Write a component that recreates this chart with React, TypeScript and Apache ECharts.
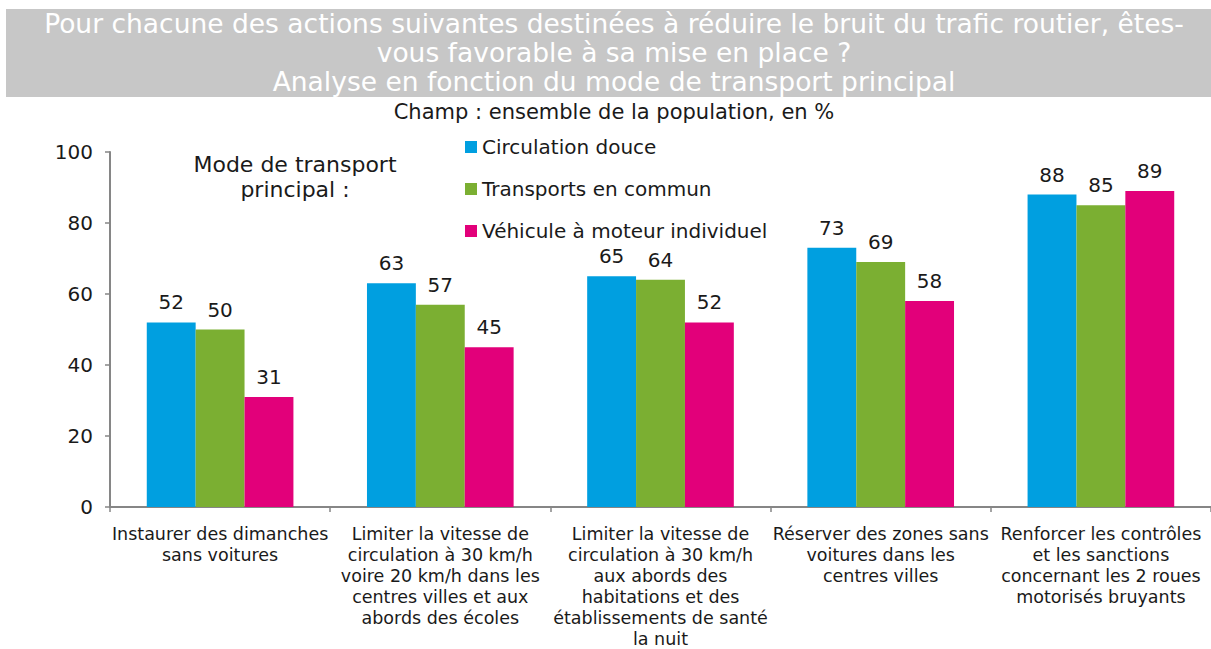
import React, { useEffect, useRef } from "react";
import * as echarts from "echarts";

const titleLines = [
  "Pour chacune des actions suivantes destinées à réduire le bruit du trafic routier, êtes-",
  "vous favorable à sa mise en place ?",
  "Analyse en fonction du mode de transport principal",
];
const subtitle = "Champ : ensemble de la population, en %";
const legendCaption = "Mode de transport\nprincipal :";

const categories = [
  "Instaurer des dimanches\nsans voitures",
  "Limiter la vitesse de\ncirculation à 30 km/h\nvoire 20 km/h dans les\ncentres villes et aux\nabords des écoles",
  "Limiter la vitesse de\ncirculation à 30 km/h\naux abords des\nhabitations et des\nétablissements de santé\nla nuit",
  "Réserver des zones sans\nvoitures dans les\ncentres villes",
  "Renforcer les contrôles\net les sanctions\nconcernant les 2 roues\nmotorisés bruyants",
];

const seriesNames = ["Circulation douce", "Transports en commun", "Véhicule à moteur individuel"];
const circulationDouce = [52, 63, 65, 73, 88];
const transportsEnCommun = [50, 57, 64, 69, 85];
const vehiculeMoteur = [31, 45, 52, 58, 89];
const seriesColors = ["#009FE0", "#7BAF32", "#E2007A"];

const yMin = 0;
const yMax = 100;
const yInterval = 20;

const FONT = "DejaVu Sans";
const TEXT = "#1a1a1a";
const AXIS = "#868686";

export default function App() {
  const ref = useRef<HTMLDivElement>(null);

  useEffect(() => {
    if (!ref.current) return;
    const chart = echarts.init(ref.current, null, { renderer: "svg" });
    const values = [circulationDouce, transportsEnCommun, vehiculeMoteur];
    const option: any = {
      animation: false,
      backgroundColor: "#ffffff",
      textStyle: { fontFamily: FONT },
      graphic: [
        {
          type: "rect",
          shape: { x: 6, y: 9, width: 1210, height: 88 },
          style: { fill: "#c7c7c7" },
          silent: true,
        },
        {
          type: "text",
          x: 614,
          y: 9,
          style: {
            text: titleLines.join("\n"),
            fill: "#ffffff",
            fontFamily: FONT,
            fontSize: 26.5,
            lineHeight: 29,
            align: "center",
            verticalAlign: "top",
          },
        },
        {
          type: "text",
          x: 614,
          y: 112,
          style: {
            text: subtitle,
            fill: TEXT,
            fontFamily: FONT,
            fontSize: 21,
            align: "center",
            verticalAlign: "middle",
          },
        },
        {
          type: "text",
          x: 295,
          y: 152,
          style: {
            text: legendCaption,
            fill: TEXT,
            fontFamily: FONT,
            fontSize: 22,
            lineHeight: 25,
            align: "center",
            verticalAlign: "top",
          },
        },
      ],
      legend: {
        orient: "vertical",
        left: 460,
        top: 131,
        itemWidth: 12,
        itemHeight: 12,
        itemGap: 20,
        icon: "rect",
        textStyle: { fontFamily: FONT, fontSize: 20, color: TEXT, lineHeight: 22 },
        data: seriesNames,
      },
      grid: { left: 110, top: 152, width: 1111, height: 360, containLabel: false },
      xAxis: {
        type: "category",
        data: categories,
        axisLine: { lineStyle: { color: AXIS, width: 2 } },
        axisTick: { show: true, length: 5, lineStyle: { color: AXIS, width: 1.5 } },
        axisLabel: {
          interval: 0,
          margin: 16,
          fontFamily: FONT,
          fontSize: 17.5,
          lineHeight: 21,
          color: TEXT,
          align: "center",
        },
      },
      yAxis: {
        type: "value",
        min: yMin,
        max: yMax,
        interval: yInterval,
        axisLine: { show: true, lineStyle: { color: AXIS, width: 2 } },
        axisTick: { show: true, length: 5, lineStyle: { color: AXIS, width: 1.5 } },
        splitLine: { show: false },
        axisLabel: { margin: 17, fontFamily: FONT, fontSize: 20, color: TEXT },
      },
      series: seriesNames.map((name, i) => ({
        name,
        type: "bar",
        data: values[i],
        barGap: "0%",
        barCategoryGap: "33.4%",
        itemStyle: { color: seriesColors[i] },
        label: {
          show: true,
          position: "top",
          distance: 10,
          fontFamily: FONT,
          fontSize: 20,
          color: TEXT,
        },
      })),
    };
    chart.setOption(option);
    return () => chart.dispose();
  }, []);

  return (
    <div
      ref={ref}
      style={{ position: "absolute", left: 0, top: 0, width: 1211, height: 649 }}
    />
  );
}
